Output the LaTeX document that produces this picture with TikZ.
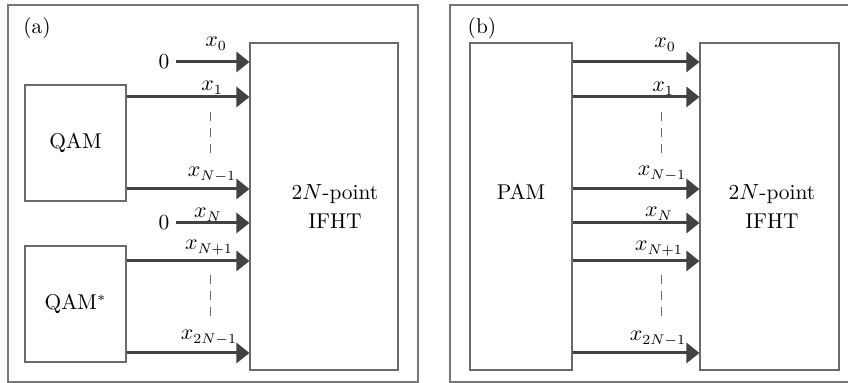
\documentclass[tikz,border=0pt]{standalone}
\usetikzlibrary{arrows.meta}
\definecolor{sigcol}{HTML}{424242}
\definecolor{boxcol}{HTML}{6A6A6A}
\definecolor{framecol}{HTML}{767676}

\begin{document}
\begin{tikzpicture}[x=0.5pt,y=-0.5pt,
    font=\fontsize{10.7}{14.5}\selectfont,
    sig/.style={draw=sigcol,line width=1.5pt,-{Triangle[length=6.5pt,width=10pt]}},
    blk/.style={draw=boxcol,line width=0.55pt},
    frame/.style={draw=framecol,line width=0.8pt},
    lbl/.style={anchor=base,inner sep=0pt},
    dots/.style={draw=boxcol,line width=0.5pt,dash pattern=on 4.5pt off 3.5pt}]
    \useasboundingbox (0,0) rectangle (848,383);
    % rows of the inputs
    \foreach \n/\yy in {r0/62,r1/97,rm/189,rN/223,rn/261,rl/353}{\coordinate (\n) at (0,\yy);}
    % panel (a)
    \draw[frame] (8,5) rectangle (418,382);
    \node (taga) at (37,28) {(a)};
    \node[blk,minimum width=74pt,minimum height=163.5pt] (ifhta) at (324,206.5) {};
    \node[align=center] (ifhtatxt) at (335,207) {2$N$-point\\IFHT};
    \node[blk,minimum width=50.5pt,minimum height=58pt] (qam) at (75.5,143) {QAM};
    \node[blk,minimum width=50.5pt,minimum height=58pt] (qamc) at (75.5,304) {QAM$^*$};
    \node (zeroa) at (164,62) {0};
    \node (zerob) at (164,223) {0};
    \draw[sig] (zeroa.east) -- (ifhta.west |- r0);
    \draw[sig] (qam.east |- r1) -- (ifhta.west |- r1);
    \draw[sig] (qam.east |- rm) -- (ifhta.west |- rm);
    \draw[sig] (zerob.east) -- (ifhta.west |- rN);
    \draw[sig] (qamc.east |- rn) -- (ifhta.west |- rn);
    \draw[sig] (qamc.east |- rl) -- (ifhta.west |- rl);
    \node[lbl] (xa0) at (216,47) {$x_0$};
    \node[lbl] (xa1) at (212,91) {$x_1$};
    \node[lbl] (xam) at (212,177) {$x_{N-1}$};
    \node[lbl] (xaN) at (208,218) {$x_N$};
    \node[lbl] (xan) at (209,250) {$x_{N+1}$};
    \node[lbl] (xal) at (209,340) {$x_{2N-1}$};
    \draw[dots] (210,112) -- (210,155);
    \draw[dots] (210,275) -- (210,318);
    % panel (b)
    \draw[frame] (450,5) rectangle (851,382);
    \node (tagb) at (482,28) {(b)};
    \node[blk,minimum width=51pt,minimum height=163.5pt] (pam) at (521,206.5) {};
    \node (pamtxt) at (521,192) {PAM};
    \node[blk,minimum width=69.5pt,minimum height=163.5pt] (ifhtb) at (769.5,206.5) {};
    \node[align=center] (ifhtbtxt) at (772,207) {2$N$-point\\IFHT};
    \foreach \n in {r0,r1,rm,rN,rn,rl}{\draw[sig] (pam.east |- \n) -- (ifhtb.west |- \n);}
    \node[lbl] (xb0) at (665,48) {$x_0$};
    \node[lbl] (xb1) at (663,92) {$x_1$};
    \node[lbl] (xbm) at (662,176) {$x_{N-1}$};
    \node[lbl] (xbN) at (659,217) {$x_N$};
    \node[lbl] (xbn) at (659,251) {$x_{N+1}$};
    \node[lbl] (xbl) at (658,341) {$x_{2N-1}$};
    \draw[dots] (661,112) -- (661,155);
    \draw[dots] (661,275) -- (661,318);
  \end{tikzpicture}
\end{document}
